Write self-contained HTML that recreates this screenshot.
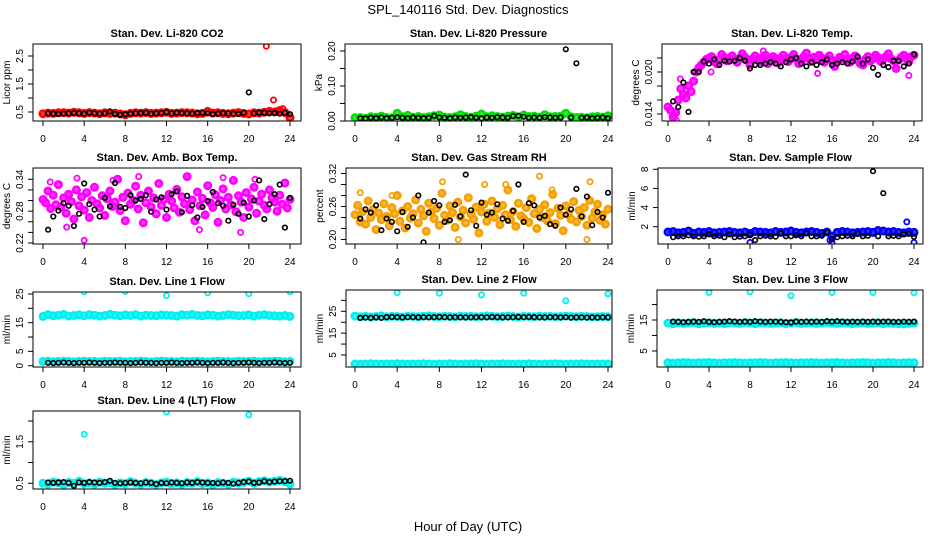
<!DOCTYPE html>
<html><head><meta charset="utf-8"><title>SPL_140116 Std. Dev. Diagnostics</title>
<style>
html,body{margin:0;padding:0;background:#fff;}
svg{display:block;font-family:"Liberation Sans",Arial,sans-serif;}
</style></head>
<body>
<svg id="chart" width="936" height="540" viewBox="0 0 936 540" xmlns="http://www.w3.org/2000/svg">
<rect x="0" y="0" width="936" height="540" fill="#fff"/>
<text x="468" y="14" font-size="13" text-anchor="middle">SPL_140116  Std. Dev. Diagnostics</text>
<text x="468" y="531" font-size="13" text-anchor="middle">Hour of Day (UTC)</text>
</svg>
<script>
// ---- data arrays ----
const xTicks = [0,4,8,12,16,20,24];

const co2Red = [0.44,0.46,0.45,0.47,0.48,0.46,0.49,0.47,0.45,0.48,0.46,0.44,0.47,0.45,0.46,0.43,0.40,0.45,0.47,0.46,0.48,0.45,0.46,0.47,0.49,0.45,0.46,0.48,0.47,0.46,0.44,0.45,0.52,0.46,0.47,0.45,0.44,0.46,0.48,0.45,0.43,0.47,0.46,0.49,0.52,0.50,0.55,0.48,0.30];
const co2RedOutT = [21.7,22.4,23.3,22.8];
const co2RedOutV = [2.85,0.93,0.62,0.55];
const co2Black = [0.45,0.44,0.43,0.44,0.45,0.46,0.45,0.44,0.47,0.45,0.44,0.45,0.52,0.43,0.40,0.42,0.44,0.45,0.46,0.47,0.44,0.45,0.46,0.49,0.45,0.47,0.46,0.45,0.44,0.46,0.47,0.45,0.42,0.44,0.46,0.45,0.44,0.43,0.47,1.20,0.45,0.48,0.47,0.45,0.46,0.44,0.47,0.42];

const presGreen = [0.009,0.010,0.008,0.012,0.011,0.014,0.010,0.009,0.022,0.012,0.016,0.011,0.013,0.010,0.012,0.015,0.017,0.011,0.010,0.012,0.018,0.013,0.011,0.014,0.020,0.012,0.015,0.013,0.011,0.014,0.016,0.012,0.017,0.013,0.014,0.011,0.018,0.012,0.013,0.014,0.022,0.012,0.010,0.011,0.009,0.012,0.013,0.011,0.015];
const presBlack = [0.008,0.007,0.009,0.008,0.010,0.008,0.009,0.011,0.009,0.008,0.010,0.009,0.008,0.009,0.015,0.010,0.009,0.008,0.010,0.009,0.010,0.011,0.009,0.008,0.010,0.009,0.011,0.010,0.009,0.014,0.015,0.012,0.009,0.010,0.009,0.011,0.010,0.009,0.010,0.205,0.010,0.165,0.009,0.010,0.008,0.009,0.010,0.008];

const tempPink = [0.0150,0.0145,0.0135,0.0142,0.0160,0.0176,0.0168,0.0163,0.0180,0.0172,0.0187,0.0200,0.0206,0.0210,0.0214,0.0218,
0.0220,0.0222,0.0215,0.0212,0.0218,0.0225,0.0221,0.0216,0.0219,0.0223,
0.0218,0.0214,0.0220,0.0226,0.0221,0.0217,0.0210,0.0219,0.0223,0.0218,
0.0215,0.0221,0.0224,0.0212,0.0217,0.0222,0.0219,0.0213,0.0220,0.0224,
0.0218,0.0215,0.0221,0.0225,0.0219,0.0212,0.0216,0.0222,0.0227,0.0219,
0.0215,0.0221,0.0218,0.0224,0.0220,0.0214,0.0219,0.0223,0.0217,0.0208,
0.0216,0.0221,0.0219,0.0225,0.0218,0.0214,0.0220,0.0223,0.0217,0.0212,
0.0210,0.0218,0.0222,0.0216,0.0219,0.0224,0.0221,0.0215,0.0218,0.0222,
0.0226,0.0219,0.0216,0.0205,0.0217,0.0221,0.0224,0.0219,0.0215,0.0222,0.0224];
const tempPinkOutT = [0.6,0.8,1.2,4.2,9.3,14.6,23.5];
const tempPinkOutV = [0.0138,0.0131,0.0190,0.0200,0.0230,0.0198,0.0195];
const tempBlack = [0.0158,0.0150,0.0185,0.0143,0.0200,0.0200,0.0215,0.0212,0.0218,0.0210,0.0216,0.0215,0.0216,0.0220,0.0216,0.0205,0.0210,0.0210,0.0212,0.0214,0.0212,0.0208,0.0214,0.0218,0.0220,0.0212,0.0208,0.0214,0.0210,0.0214,0.0218,0.0210,0.0212,0.0214,0.0212,0.0215,0.0222,0.0212,0.0218,0.0206,0.0196,0.0210,0.0207,0.0216,0.0216,0.0208,0.0212,0.0225];

const ambPink = [0.302,0.296,0.318,0.285,0.310,0.292,0.330,0.288,0.305,0.276,
0.312,0.298,0.265,0.320,0.290,0.307,0.282,0.315,0.268,0.300,
0.325,0.294,0.286,0.309,0.272,0.303,0.318,0.289,0.297,0.340,
0.281,0.306,0.262,0.314,0.293,0.300,0.327,0.284,0.310,0.258,
0.296,0.318,0.288,0.305,0.275,0.332,0.291,0.302,0.268,0.312,
0.299,0.286,0.321,0.278,0.307,0.294,0.345,0.283,0.301,0.262,
0.316,0.290,0.304,0.273,0.328,0.296,0.287,0.311,0.259,0.300,
0.322,0.284,0.306,0.292,0.338,0.279,0.309,0.297,0.268,0.315,
0.288,0.303,0.325,0.276,0.299,0.312,0.291,0.284,0.320,0.305,
0.297,0.280,0.310,0.293,0.333,0.286,0.302];
const ambPinkOutT = [4.0,19.2,2.3,15.2,0.7,9.3,17.5,20.6,3.3,6.8];
const ambPinkOutV = [0.225,0.240,0.250,0.245,0.335,0.345,0.343,0.340,0.342,0.338];
const ambBlack = [0.245,0.270,0.281,0.295,0.290,0.252,0.275,0.332,0.293,0.283,0.270,0.305,0.289,0.333,0.288,0.286,0.310,0.300,0.303,0.310,0.279,0.302,0.306,0.283,0.312,0.317,0.278,0.309,0.291,0.268,0.288,0.299,0.316,0.295,0.290,0.262,0.292,0.275,0.296,0.270,0.300,0.338,0.265,0.293,0.312,0.330,0.249,0.305];

const rhOrange = [0.245,0.262,0.232,0.251,0.228,0.270,0.240,0.255,0.218,0.248,
0.236,0.265,0.242,0.225,0.258,0.247,0.280,0.233,0.252,0.221,
0.260,0.239,0.247,0.272,0.230,0.255,0.243,0.215,0.266,0.250,
0.238,0.257,0.226,0.284,0.244,0.235,0.261,0.249,0.222,0.268,
0.241,0.253,0.230,0.276,0.246,0.237,0.259,0.212,0.250,0.264,
0.233,0.248,0.270,0.240,0.256,0.227,0.262,0.245,0.290,0.236,
0.251,0.224,0.266,0.243,0.238,0.258,0.231,0.274,0.247,0.220,
0.255,0.240,0.263,0.234,0.249,0.282,0.229,0.257,0.244,0.216,
0.261,0.246,0.237,0.269,0.232,0.253,0.242,0.258,0.226,0.271,
0.239,0.250,0.264,0.235,0.245,0.228,0.255];
const rhOrangeOutT = [17.5,9.8,22.0,22.3,3.5,12.3,0.5,14.3,8.3,18.7];
const rhOrangeOutV = [0.315,0.200,0.200,0.305,0.280,0.300,0.285,0.300,0.305,0.290];
const rhBlack = [0.238,0.255,0.249,0.262,0.217,0.238,0.232,0.215,0.250,0.223,0.240,0.280,0.195,0.249,0.270,0.262,0.232,0.235,0.263,0.242,0.318,0.253,0.225,0.267,0.245,0.249,0.264,0.238,0.234,0.252,0.300,0.232,0.266,0.262,0.240,0.243,0.228,0.225,0.258,0.245,0.255,0.292,0.242,0.278,0.226,0.250,0.240,0.285];
const rhBlackOutT = [23.8];
const rhBlackOutV = [0.335];

const flowBlue = [1.45,1.5,1.35,1.4,1.55,1.3,1.45,1.4,1.5,1.35,1.4,1.45,1.5,1.4,1.35,1.45,1.3,1.5,1.45,1.4,1.35,1.5,1.4,1.45,1.55,1.4,1.35,1.45,1.5,1.4,1.3,1.45,1.0,1.4,1.5,1.45,1.35,1.4,1.45,1.5,1.4,1.6,1.55,1.45,1.5,1.4,1.35,1.45,1.4];
const flowBlueOutT = [8,16,23.3,15.8,24];
const flowBlueOutV = [0.35,0.35,2.5,0.6,0.35];
const flowBlack = [0.9,1.0,1.0,1.1,1.0,0.95,1.0,1.2,1.0,1.05,0.9,1.2,0.9,0.95,1.0,1.1,0.6,1.0,1.05,1.0,0.95,1.3,1.0,1.0,1.1,1.0,1.3,1.0,1.0,1.05,1.4,0.7,0.9,1.0,1.05,1.0,1.25,1.0,1.05,7.8,1.0,5.5,1.0,1.05,1.0,1.2,1.25,0.95];

const line1Cyan = [17.2,17.8,17.4,17.6,17.9,17.3,17.5,17.7,17.4,17.8,17.6,17.3,17.5,17.9,17.6,17.4,17.7,17.5,17.8,17.3,17.6,17.5,17.4,17.7,17.6,17.5,17.3,17.8,17.6,17.9,17.5,17.4,17.7,17.6,17.3,17.5,17.8,17.6,17.4,17.5,17.7,17.3,17.6,17.8,17.5,17.4,17.3,17.5,17.2];
const line1CyanLow = [1.5,1.6,1.4,1.5,1.6,1.5,1.4,1.5,1.6,1.5,1.5,1.4,1.6,1.5,1.5,1.6,1.4,1.5,1.5,1.6,1.5,1.4,1.5,1.6,1.5,1.5,1.4,1.6,1.5,1.5,1.6,1.5,1.4,1.5,1.6,1.5,1.5,1.4,1.6,1.5,1.5,1.6,1.4,1.5,1.5,1.6,1.5,1.4,1.5];
const line1OutT = [4,8,12,16,20,24];
const line1OutV = [25.8,25.9,24.4,25.5,25.1,25.8];
const line1Black = [1.0,0.9,1.0,1.1,1.0,0.9,1.0,1.0,1.1,1.0,0.9,1.0,1.0,1.1,1.0,1.0,0.9,1.0,1.1,1.0,1.0,0.9,1.0,1.0,1.1,1.0,0.9,1.0,1.0,1.1,1.0,0.9,1.0,1.0,1.1,1.0,0.9,1.0,1.0,1.1,1.0,0.9,1.0,1.0,1.1,1.0,0.9,1.0];

const line2Cyan = [22.8,22.5,22.7,22.4,22.6,22.9,22.5,22.7,22.6,22.4,22.8,22.6,22.5,22.7,22.9,22.6,22.5,22.7,22.6,22.4,22.8,22.6,22.7,22.5,22.6,22.9,22.7,22.5,22.6,22.8,22.6,22.4,22.7,22.6,22.5,22.8,22.6,22.7,22.5,22.6,22.8,22.6,22.5,22.7,22.6,22.4,22.5,22.6,22.5];
const line2CyanLow = [0.9,0.8,0.9,1.0,0.9,0.8,0.9,0.9,1.0,0.9,0.8,0.9,0.9,1.0,0.9,0.8,0.9,0.9,1.0,0.9,0.8,0.9,0.9,1.0,0.9,0.8,0.9,0.9,1.0,0.9,0.8,0.9,0.9,1.0,0.9,0.8,0.9,0.9,1.0,0.9,0.8,0.9,0.9,1.0,0.9,0.8,0.9,0.9,0.9];
const line2OutT = [4,8,12,16,20,24];
const line2OutV = [33.5,33.3,32.5,33.3,29.8,33.0];
const line2Black = [22.0,22.1,22.0,22.2,22.0,22.3,22.4,22.3,22.2,22.3,22.3,22.2,22.3,22.2,22.3,22.4,22.3,22.2,22.3,22.2,22.2,22.2,22.3,22.3,22.2,22.4,22.3,22.2,22.2,22.3,22.4,22.3,22.4,22.3,22.2,22.2,22.3,22.3,22.2,22.3,22.1,22.2,22.2,22.1,22.2,22.1,22.2,22.2];

const line3Cyan = [14.0,13.8,14.1,13.9,14.0,14.2,13.8,14.0,14.1,13.9,14.0,13.8,14.1,14.0,13.9,14.2,14.0,13.8,14.1,14.0,13.9,14.0,14.1,13.8,14.0,14.2,13.9,14.0,14.1,13.9,14.0,14.2,14.0,13.9,14.1,14.0,13.8,14.0,14.1,13.9,14.0,14.1,13.8,14.0,13.9,13.8,13.7,13.9,14.0];
const line3CyanLow = [1.2,1.1,1.2,1.3,1.2,1.1,1.2,1.2,1.3,1.2,1.1,1.2,1.2,1.3,1.2,1.1,1.2,1.2,1.3,1.2,1.1,1.2,1.2,1.3,1.2,1.1,1.2,1.2,1.3,1.2,1.1,1.2,1.2,1.3,1.2,1.1,1.2,1.2,1.3,1.2,1.1,1.2,1.2,1.3,1.2,1.1,1.2,1.2,1.2];
const line3OutT = [4,8,12,16,20,24];
const line3OutV = [23.9,24.1,22.8,23.9,23.9,23.8];
const line3Black = [14.5,14.4,14.3,14.4,14.5,14.4,14.6,14.4,14.3,14.4,14.5,14.6,14.5,14.4,14.5,14.4,14.6,14.5,14.4,14.5,14.5,14.4,14.3,14.2,14.5,14.4,14.5,14.4,14.5,14.4,14.6,14.5,14.6,14.5,14.4,14.5,14.4,14.5,14.4,14.5,14.4,14.5,14.5,14.4,14.4,14.5,14.4,14.5];

const line4Cyan = [0.50,0.48,0.53,0.51,0.47,0.52,0.50,0.55,0.49,0.51,0.48,0.53,0.50,0.52,0.47,0.51,0.49,0.54,0.50,0.48,0.52,0.50,0.47,0.51,0.53,0.49,0.51,0.48,0.52,0.50,0.54,0.49,0.51,0.47,0.52,0.50,0.48,0.53,0.51,0.52,0.55,0.50,0.54,0.56,0.53,0.55,0.57,0.54,0.48];
const line4OutT = [4,12,20];
const line4OutV = [1.68,2.22,2.15];
const line4Black = [0.52,0.51,0.52,0.53,0.51,0.44,0.52,0.51,0.53,0.52,0.51,0.53,0.56,0.51,0.50,0.51,0.52,0.51,0.50,0.52,0.51,0.48,0.51,0.50,0.52,0.51,0.50,0.52,0.51,0.53,0.52,0.51,0.51,0.50,0.52,0.51,0.49,0.51,0.53,0.54,0.51,0.52,0.55,0.53,0.54,0.55,0.55,0.56];

// hour categories (x positions in hours)
const hoursHalf = []; for (let i = 0; i <= 48; i++) hoursHalf.push(i * 0.5);
const hoursQuarter = []; for (let i = 0; i <= 96; i++) hoursQuarter.push(i * 0.25);
const hoursBlack = []; for (let i = 1; i <= 48; i++) hoursBlack.push(i * 0.5);

// ---- layout ----
const NS = 'http://www.w3.org/2000/svg';
const svg = document.getElementById('chart');
function mk(tag, attrs, parent) {
  const e = document.createElementNS(NS, tag);
  for (const k in attrs) e.setAttribute(k, attrs[k]);
  (parent || svg).appendChild(e);
  return e;
}

const panels = [
 {key:'co2', title:'Stan. Dev. Li-820 CO2', ylab:'Licor ppm', box:[33,44,301,121], xm:[43,290], ym:[0.5,112,2.5,56], yt:[0.5,1,1.5,2,2.5], yl:[0.5,1.5,2.5], fmt:1,
  series:[{c:'#ff0000',t:hoursHalf,v:co2Red,d:1},{c:'#ff0000',t:co2RedOutT,v:co2RedOutV},{c:'#000',t:hoursBlack,v:co2Black}]},
 {key:'pressure', title:'Stan. Dev. Li-820 Pressure', ylab:'kPa', box:[345,44,612,121], xm:[355,608], ym:[0,121,0.2,51], yt:[0,0.05,0.1,0.15,0.2], yl:[0,0.1,0.2], fmt:2,
  series:[{c:'#00e000',t:hoursHalf,v:presGreen,d:1},{c:'#000',t:hoursBlack,v:presBlack}]},
 {key:'temp', title:'Stan. Dev. Li-820 Temp.', ylab:'degrees C', box:[662,44,922,121], xm:[668,914], ym:[0.014,114,0.020,72], yt:[0.014,0.016,0.018,0.020,0.022], yl:[0.014,0.020], fmt:3,
  series:[{c:'#ff00ff',t:hoursQuarter,v:tempPink,d:1},{c:'#ff00ff',t:tempPinkOutT,v:tempPinkOutV},{c:'#000',t:hoursBlack,v:tempBlack}]},
 {key:'ambbox', title:'Stan. Dev. Amb. Box Temp.', ylab:'degrees C', box:[33,168,301,244], xm:[43,290], ym:[0.22,243,0.34,179.3], yt:[0.22,0.24,0.26,0.28,0.30,0.32,0.34], yl:[0.22,0.28,0.34], fmt:2,
  series:[{c:'#ff00ff',t:hoursQuarter,v:ambPink,d:1},{c:'#ff00ff',t:ambPinkOutT,v:ambPinkOutV},{c:'#000',t:hoursBlack,v:ambBlack}]},
 {key:'rh', title:'Stan. Dev. Gas Stream RH', ylab:'percent', box:[346,168,612,244], xm:[355,608], ym:[0.20,239.5,0.32,173.5], yt:[0.20,0.22,0.24,0.26,0.28,0.30,0.32], yl:[0.20,0.26,0.32], fmt:2,
  series:[{c:'#f5a000',t:hoursQuarter,v:rhOrange,d:1},{c:'#f5a000',t:rhOrangeOutT,v:rhOrangeOutV},{c:'#000',t:hoursBlack,v:rhBlack},{c:'#000',t:rhBlackOutT,v:rhBlackOutV}]},
 {key:'sampleflow', title:'Stan. Dev. Sample Flow', ylab:'ml/min', box:[658,168,923,244], xm:[668,914], ym:[2,226.7,8,169.3], yt:[2,4,6,8], yl:[2,4,6,8], fmt:0,
  series:[{c:'#0000ff',t:hoursHalf,v:flowBlue,d:1},{c:'#0000ff',t:flowBlueOutT,v:flowBlueOutV},{c:'#000',t:hoursBlack,v:flowBlack}]},
 {key:'line1', title:'Stan. Dev. Line 1 Flow', ylab:'ml/min', box:[33,292,301,367], xm:[43,290], ym:[0,365.7,25,294], yt:[0,5,10,15,20,25], yl:[0,5,15,25], fmt:0,
  series:[{c:'#00f0f0',t:hoursHalf,v:line1Cyan,d:1},{c:'#00f0f0',t:hoursHalf,v:line1CyanLow,d:1},{c:'#00f0f0',t:line1OutT,v:line1OutV},{c:'#000',t:hoursBlack,v:line1Black}]},
 {key:'line2', title:'Stan. Dev. Line 2 Flow', ylab:'ml/min', box:[346,290,612,367], xm:[355,608], ym:[5,355,25,311.3], yt:[5,10,15,20,25,30], yl:[5,15,25], fmt:0,
  series:[{c:'#00f0f0',t:hoursHalf,v:line2Cyan,d:1},{c:'#00f0f0',t:hoursHalf,v:line2CyanLow,d:1},{c:'#00f0f0',t:line2OutT,v:line2OutV},{c:'#000',t:hoursBlack,v:line2Black}]},
 {key:'line3', title:'Stan. Dev. Line 3 Flow', ylab:'ml/min', box:[657,290,923,367], xm:[668,914], ym:[5,351,15,320], yt:[5,10,15,20], yl:[5,15], fmt:0,
  series:[{c:'#00f0f0',t:hoursHalf,v:line3Cyan,d:1},{c:'#00f0f0',t:hoursHalf,v:line3CyanLow,d:1},{c:'#00f0f0',t:line3OutT,v:line3OutV},{c:'#000',t:hoursBlack,v:line3Black}]},
 {key:'line4', title:'Stan. Dev. Line 4 (LT) Flow', ylab:'ml/min', box:[33,411,300,489], xm:[43,290], ym:[0.5,483.3,2.0,421], yt:[0.5,1,1.5,2], yl:[0.5,1.5], fmt:1,
  series:[{c:'#00f0f0',t:hoursHalf,v:line4Cyan,d:1},{c:'#00f0f0',t:line4OutT,v:line4OutV},{c:'#000',t:hoursBlack,v:line4Black}]}
];

panels.forEach((p, pi) => {
  const [L, T, R, B] = p.box;
  const g = mk('g', {});
  
  
  const xs = h => p.xm[0] + (h / 24) * (p.xm[1] - p.xm[0]);
  const ys = v => p.ym[1] + (v - p.ym[0]) * (p.ym[3] - p.ym[1]) / (p.ym[2] - p.ym[0]);

  const cp = mk('clipPath', {id: 'clip' + pi}, g);
  mk('rect', {x: L, y: T, width: R - L, height: B - T}, cp);

  const tt = mk('text', {x: (L + R) / 2, y: T - 7, 'font-size': 11, 'font-weight': 'bold', 'text-anchor': 'middle'}, g);
  
  
  tt.textContent = p.title;

  const pts = mk('g', {'clip-path': 'url(#clip' + pi + ')'}, g);
  
  
  p.series.forEach(s => {
    const isBlack = s.c === '#000';
    s.v.forEach((v, i) => {
      const attrs = isBlack
        ? {cx: xs(s.t[i]).toFixed(1), cy: ys(v).toFixed(1), r: 2.3, fill: 'none', stroke: s.c, 'stroke-width': 1.6}
        : (s.d
          ? {cx: xs(s.t[i]).toFixed(1), cy: ys(v).toFixed(1), r: 3.2, fill: s.c, 'fill-opacity': 0.75, stroke: s.c, 'stroke-width': 2.6}
          : {cx: xs(s.t[i]).toFixed(1), cy: ys(v).toFixed(1), r: 2.6, fill: 'none', stroke: s.c, 'stroke-width': 1.8});
      const c = mk('circle', attrs, pts);
      
      
    });
  });

  const bx = mk('rect', {x: L, y: T, width: R - L, height: B - T, fill: 'none', stroke: '#000', 'stroke-width': 1}, g);
  
  

  const xa = mk('g', {}, g);
  
  
  mk('line', {x1: xs(0), y1: B, x2: xs(24), y2: B, stroke: '#000'}, xa);
  xTicks.forEach(h => {
    mk('line', {x1: xs(h), y1: B, x2: xs(h), y2: B + 5, stroke: '#000'}, xa);
    const lt = mk('text', {x: xs(h), y: B + 21, 'font-size': 10, 'text-anchor': 'middle'}, xa);
    
    
    lt.textContent = h;
  });

  const ya = mk('g', {}, g);
  
  
  mk('line', {x1: L, y1: ys(p.yt[0]), x2: L, y2: ys(p.yt[p.yt.length - 1]), stroke: '#000'}, ya);
  p.yt.forEach(v => {
    mk('line', {x1: L - 5, y1: ys(v), x2: L, y2: ys(v), stroke: '#000'}, ya);
  });
  p.yl.forEach(v => {
    const x = L - 10, y = ys(v);
    const lt = mk('text', {x: x, y: y, 'font-size': 10, 'text-anchor': 'middle', transform: 'rotate(-90 ' + x + ' ' + y + ')'}, ya);
    
    
    lt.textContent = v.toFixed(p.fmt);
  });
  const yx = L - 23, yy = (T + B) / 2;
  const yt = mk('text', {x: yx, y: yy, 'font-size': 10, 'text-anchor': 'middle', transform: 'rotate(-90 ' + yx + ' ' + yy + ')'}, ya);
  
  
  yt.textContent = p.ylab;
});
</script>
</body></html>
